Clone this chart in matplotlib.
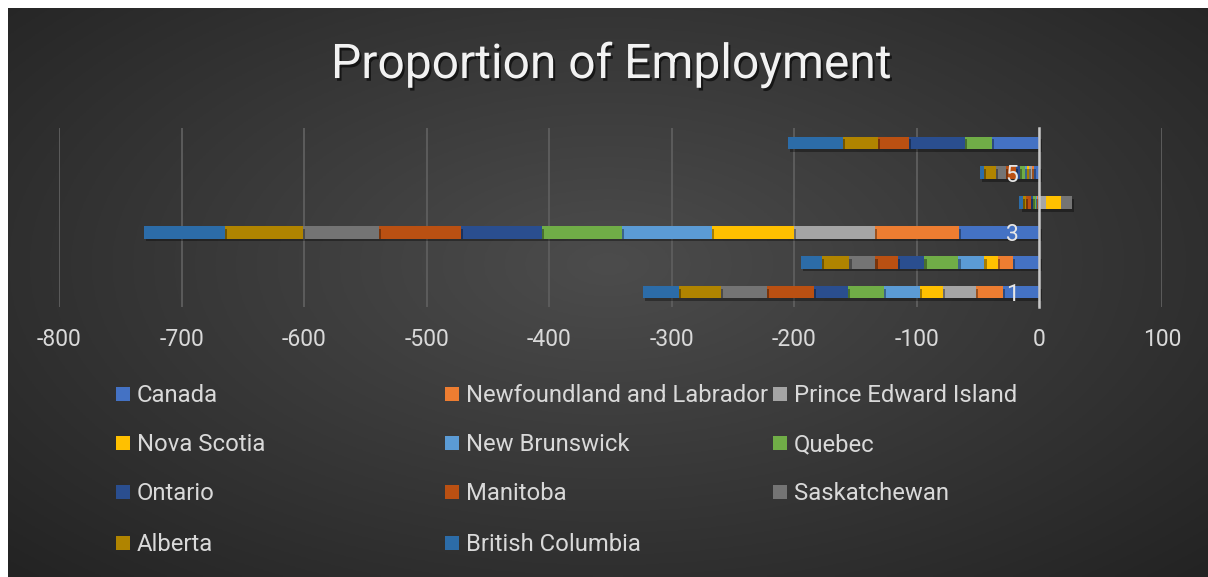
import numpy as np
import matplotlib
matplotlib.use("Agg")
import matplotlib.pyplot as plt
import matplotlib.patheffects as pe
from matplotlib.patches import Rectangle

plt.rcParams['font.family'] = ['Roboto', 'DejaVu Sans']

# ---------------- data ----------------
categories = [1, 2, 3, 4, 5, 6]
ytick_labels = ["1", "3", "5"]
ytick_values = [1, 3, 5]
xticks = [-800, -700, -600, -500, -400, -300, -200, -100, 0, 100]

series_names = ["Canada", "Newfoundland and Labrador", "Prince Edward Island",
                "Nova Scotia", "New Brunswick", "Quebec", "Ontario", "Manitoba",
                "Saskatchewan", "Alberta", "British Columbia"]

canada   = [-29.9, -21.8, -65.8, -0.8, -4.3, -38.8]
newfound = [-21.7, -12.2, -68.2, -0.8, -1.5, 0.0]
pei      = [-27.2, 0.0, -66.3, 5.0, -2.5, 0.0]
nova     = [-19.0, -10.9, -66.6, 12.5, -2.0, 0.0]
newbrun  = [-29.1, -21.2, -73.4, -1.2, -1.5, 0.0]
quebec   = [-29.4, -27.7, -65.3, -2.2, -4.0, -22.0]
ontario  = [-28.0, -21.8, -66.6, -2.0, -3.5, -45.4]
manitoba = [-37.8, -18.2, -66.6, -4.0, -8.0, -25.3]
saskat   = [-37.5, -21.2, -62.0, 8.8, -8.5, 0.0]
alberta  = [-34.5, -22.6, -63.9, -2.8, -9.5, -29.0]
bcolumb  = [-29.4, -16.8, -66.1, -2.5, -3.6, -44.9]

series_values = [canada, newfound, pei, nova, newbrun, quebec, ontario,
                 manitoba, saskat, alberta, bcolumb]

colors = ["#4472C4", "#ED7D31", "#A5A5A5", "#FFC000", "#5B9BD5", "#70AD47",
          "#2A4E8F", "#BA5012", "#747474", "#B08400", "#2C6CA8"]

# ---------------- figure ----------------
W, H = 1208, 577
fig = plt.figure(figsize=(W / 100, H / 100), dpi=100, facecolor="white")

# radial gradient background (white strip at top and left)
bg = fig.add_axes([8 / W, 0, 1 - 8 / W, 1 - 8 / H], zorder=-10)
gx, gy = np.meshgrid(np.linspace(0, 1, 400), np.linspace(0, 1, 200))
d = np.sqrt(((gx - 0.5) / 0.5) ** 2 + ((gy - 0.55) / 0.55) ** 2) / np.sqrt(2)
d = np.clip(d, 0, 1)
c_center = np.array([0x4c, 0x4c, 0x4c]) / 255
c_edge = np.array([0x23, 0x23, 0x23]) / 255
img = c_center[None, None, :] * (1 - d[..., None]) + c_edge[None, None, :] * d[..., None]
bg.imshow(img, aspect="auto", extent=[0, 1, 0, 1], origin="lower")
bg.set_axis_off()

# plot area
left_px, right_px, top_px, bottom_px = 59, 1162, 128, 307
ax = fig.add_axes([left_px / W, 1 - bottom_px / H,
                   (right_px - left_px) / W, (bottom_px - top_px) / H])
ax.patch.set_alpha(0)

y = np.array(categories, dtype=float)
pos_left = np.zeros(len(categories))
neg_left = np.zeros(len(categories))
shadow = [pe.SimplePatchShadow(offset=(1.5, -2), shadow_rgbFace="black", alpha=0.35), pe.Normal()]
for vals, col in zip(series_values, colors):
    v = np.array(vals, dtype=float)
    lefts = np.where(v >= 0, pos_left, neg_left)
    bars = ax.barh(y, v, left=lefts, height=0.42, color=col, linewidth=0, zorder=2)
    for b in bars:
        b.set_path_effects(shadow)
    pos_left += np.where(v >= 0, v, 0)
    neg_left += np.where(v < 0, v, 0)

ax.set_xlim(-800, 100)
ax.set_ylim(0.5, 6.5)
ax.set_xticks(xticks)
ax.set_xticklabels([str(t) for t in xticks])
ax.set_yticks(ytick_values)
ax.set_yticklabels(ytick_labels)

ax.grid(axis="x", color="#5c5c5c", linewidth=1.4)
ax.xaxis.set_zorder(0.5)
ax.yaxis.set_zorder(5)

for s in ["top", "right", "bottom"]:
    ax.spines[s].set_visible(False)
ax.spines["left"].set_position(("data", 0))
ax.spines["left"].set_color("#C8C8C8")
ax.spines["left"].set_linewidth(1.8)
ax.spines["left"].set_zorder(3)

ax.tick_params(axis="x", length=0, pad=15, labelsize=16.5, labelcolor="#D9D9D9")
ax.tick_params(axis="y", length=0, pad=15, labelsize=16.5, labelcolor="#E6E6E6")

# title
fig.text(611 / W, 1 - 65 / H, "Proportion of Employment", ha="center", va="center",
         fontsize=34.5, color="#F2F2F2", fontweight="normal",
         path_effects=[pe.SimplePatchShadow(offset=(1.5, -2), shadow_rgbFace="black", alpha=0.6),
                       pe.Normal()])

# legend (row-major, 3 columns)
col_x = [116, 445, 773]
row_y = [394, 443, 492, 543]
sq = 14
for i, (name, col) in enumerate(zip(series_names, colors)):
    r, c = divmod(i, 3)
    mx, my = col_x[c], row_y[r]
    fig.add_artist(Rectangle((mx / W, 1 - (my + sq / 2) / H), sq / W, sq / H,
                             transform=fig.transFigure, facecolor=col, edgecolor="none"))
    fig.text((mx + sq + 7) / W, 1 - (my + 8.3) / H, name, ha="left", va="baseline",
             fontsize=17.2, color="#D9D9D9")

fig.savefig("out.png", dpi=100, facecolor=fig.get_facecolor())
